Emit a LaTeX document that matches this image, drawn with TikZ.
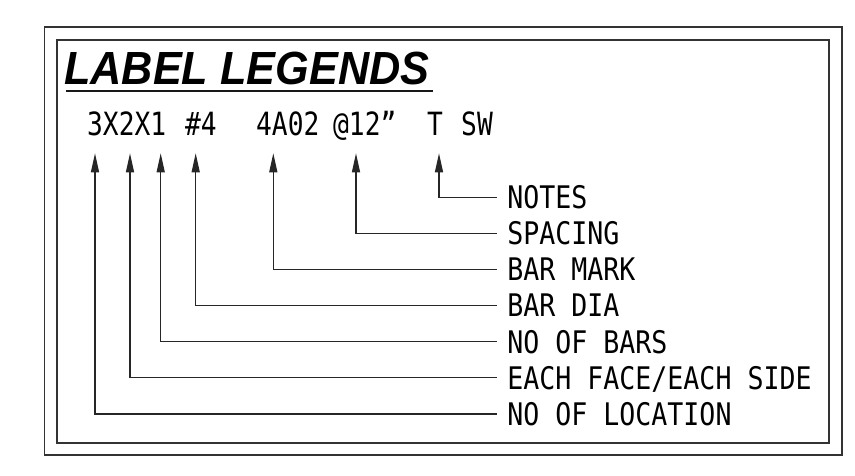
\documentclass[tikz,border=0pt]{standalone}
\usepackage{fontspec}
\usetikzlibrary{arrows.meta}
\newfontfamily\cadrow{DejaVu Sans Mono}[FakeStretch=0.82]
\newfontfamily\cadlbl{DejaVu Sans Mono}[FakeStretch=0.855]
\newfontfamily\titlefont{Liberation Sans}[FakeStretch=0.93]
\begin{document}
\begin{tikzpicture}[x=1pt,y=-1pt,
  frame/.style={draw=black!80,line width=1.7pt},
  conn/.style={draw=black!85,line width=1.3pt},
  arr/.style={conn,-{Triangle[length=19pt,width=8pt]}},
  rowtxt/.style={anchor=base west,inner sep=0pt,font=\cadrow\fontsize{32}{34}\selectfont},
  lbl/.style={anchor=west,inner xsep=10.5pt,inner ysep=0pt,text height=22.7pt,text depth=0pt,font=\cadlbl\fontsize{31.1}{33}\selectfont}]
\useasboundingbox (0,0) rectangle (855,476);
\fill[white] (0,0) rectangle (855,476);
% frames
\draw[frame] (44.5,26.7) rectangle (841.7,455.3);
\draw[frame] (57.3,40) rectangle (828.7,442.7);
% title
\node[anchor=base west,inner sep=0pt,font=\titlefont\bfseries\itshape\fontsize{46.5}{50}\selectfont] (title) at (64,85) {LABEL LEGENDS};
\draw[line width=2pt,black!90] (66,91) -- (433.3,91);
% top row
\node[rowtxt] (g1) at (87,135.5) {3X2X1};
\node[rowtxt] (g2) at (185,135.5) {\#4};
\node[rowtxt] (g3) at (256,135.5) {4A02};
\node[rowtxt] (g4) at (333,135.5) {@12”};
\node[rowtxt] (g5) at (427,135.5) {T};
\node[rowtxt] (g6) at (461,135.5) {SW};
% arrow tips
\coordinate (t1) at (95,153.3);
\coordinate (t2) at (130,153.3);
\coordinate (t3) at (160.7,153.3);
\coordinate (t4) at (195.7,153.3);
\coordinate (t5) at (273.3,153.3);
\coordinate (t6) at (356,153.3);
\coordinate (t7) at (439,153.3);
% labels
\node[lbl] (l7) at (496.7,197.3) {NOTES};
\node[lbl] (l6) at (496.7,233.4) {SPACING};
\node[lbl] (l5) at (496.7,269.5) {BAR MARK};
\node[lbl] (l4) at (496.7,305.6) {BAR DIA};
\node[lbl] (l3) at (496.7,341.7) {NO OF BARS};
\node[lbl] (l2) at (496.7,377.8) {EACH FACE/EACH SIDE};
\node[lbl] (l1) at (496.7,413.9) {NO OF LOCATION};
% connectors
\foreach \i in {1,...,7} {\draw[arr] (l\i.west) -| (t\i);}
\end{tikzpicture}
\end{document}
